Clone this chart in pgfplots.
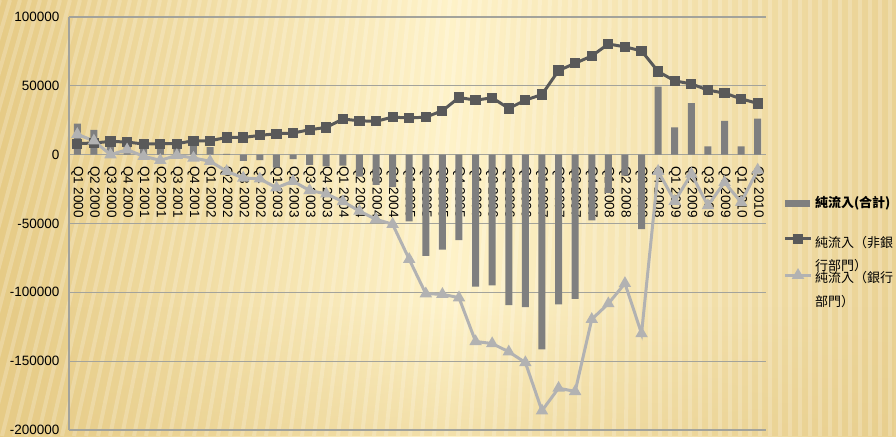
\documentclass[border=0pt]{standalone}
\usepackage{fontspec}
\setmainfont{Liberation Sans}
\newfontfamily\cjk{Noto Sans CJK TC}
\usepackage{pgfplots}
\usepackage{pgfplotstable}
\pgfplotsset{compat=1.18}
\usetikzlibrary{fadings}
\definecolor{bargray}{HTML}{7F7F7F}
\definecolor{darkline}{HTML}{595959}
\definecolor{lightline}{HTML}{B2B2B2}
\definecolor{gridgray}{HTML}{A3A39B}
\definecolor{bgL}{HTML}{E6CB86}
\definecolor{bgM}{HTML}{FEF2C8}
\definecolor{bgR}{HTML}{EAD294}

\pgfplotstableread{
idx total nonbank bank
0 22500 8000 14800
1 18000 8500 10000
2 10000 9600 0
3 12800 9200 3600
4 6500 7700 -1200
5 4000 8000 -4100
6 7500 8000 -500
7 8000 10100 -2400
8 5500 10100 -4800
9 500 12500 -12100
10 -4500 12500 -16900
11 -4000 14000 -17600
12 -9500 15200 -24000
13 -3300 15700 -19300
14 -7500 18100 -26000
15 -8500 19800 -28500
16 -8000 25900 -34000
17 -16000 24600 -41000
18 -22000 24200 -47000
19 -23500 27300 -50500
20 -48500 26600 -76000
21 -73500 27300 -101000
22 -69000 31900 -101400
23 -62000 41500 -103900
24 -95800 39600 -135700
25 -95000 41300 -137200
26 -109300 33600 -143200
27 -110800 39600 -151000
28 -141500 43700 -186000
29 -108700 61100 -169600
30 -104800 66400 -172000
31 -47700 71700 -119600
32 -27800 80400 -108200
33 -15200 78300 -93500
34 -54000 75400 -129900
35 49500 60400 -12000
36 19800 53600 -33800
37 37400 51400 -14000
38 6000 46900 -37000
39 24600 44700 -20100
40 6000 40600 -34600
41 26100 37200 -11100
}\datatable

\begin{document}
\begin{tikzpicture}
\useasboundingbox (0,0) rectangle (896pt,436pt);
\shade[left color=bgL, right color=bgR, middle color=bgM] (0,0) rectangle (896pt,436pt);
\fill[bgL, opacity=0.45, path fading=north] (0,0) rectangle (896pt,130pt);
\begin{scope}
\clip (0,0) rectangle (896pt,436pt);
\foreach \x in {-200,-190,...,1000}{
  \pgfmathsetmacro{\xb}{\x-130*max(0,1-\x/650)}
  \draw[white, opacity=0.2, line width=4pt] (\x pt,436pt) -- (\xb pt,0pt);
}
\end{scope}
\begin{axis}[
  at={(69pt,6pt)}, anchor=south west,
  scale only axis, width=697pt, height=413pt,
  xmin=-0.5, xmax=41.5, ymin=-200000, ymax=100000,
  axis y line=left, axis x line=middle,
  axis line style={-, draw=gridgray, line width=1.2pt},
  hide obscured x ticks=false, hide obscured y ticks=false,
  scaled y ticks=false, scaled x ticks=false,
  ytick={-200000,-150000,-100000,-50000,0,50000,100000},
  yticklabels={-200000,-150000,-100000,-50000,0,50000,100000},
  xtick={0,...,41},
  xticklabels={Q1 2000,Q2 2000,Q3 2000,Q4 2000,Q1 2001,Q2 2001,Q3 2001,Q4 2001,Q1 2002,Q2 2002,Q3 2002,Q4 2002,Q1 2003,Q2 2003,Q3 2003,Q4 2003,Q1 2004,Q2 2004,Q3 2004,Q4 2004,Q1 2005,Q2 2005,Q3 2005,Q4 2005,Q1 2006,Q2 2006,Q3 2006,Q4 2006,Q1 2007,Q2 2007,Q3 2007,Q4 2007,Q1 2008,Q2 2008,Q3 2008,Q4 2008,Q1 2009,Q2 2009,Q3 2009,Q4 2009,Q1 2010,Q2 2010},
  major tick length=0pt,
  ymajorgrids, grid style={gridgray, line width=1.2pt},
  tick label style={font=\fontsize{13.5}{14}\selectfont, text=black},
  xticklabel style={rotate=-90, anchor=west, xshift=8pt},
  yticklabel style={anchor=east, xshift=-6pt},
  legend cell align=left,
  legend style={at={(1.0273,0.5884)}, anchor=north west, draw=none, fill=none,
    inner sep=0pt, outer sep=0pt, font=\cjk\fontsize{13}{13}\selectfont,
    nodes={inner sep=0pt, outer sep=0pt}, /tikz/column sep=4pt, /tikz/row sep=0pt},
  clip=false,
]
\addplot[ybar, bar width=7pt, fill=bargray, draw=none,
  legend image code/.code={\path[draw=none, fill=none] (0pt,0pt) -- (26pt,0pt); \fill[overlay, bargray] (0pt,-9pt) rectangle (25pt,-2pt);}]
  table[x=idx, y=total]{\datatable};
\addlegendentry{\raisebox{0pt}[21pt][0pt]{\textbf{純流入(合計)}}}
\addplot[darkline, line width=3pt, mark=square*, mark size=3.6pt,
  legend image code/.code={\path[draw=none, fill=none] (0pt,0pt) -- (26pt,0pt); \draw[overlay, mark repeat=2, mark phase=2] plot coordinates {(0pt,-9.5pt) (13pt,-9.5pt) (26pt,-9.5pt)};}]
  table[x=idx, y=nonbank]{\datatable};
\addlegendentry{\raisebox{0pt}[38pt][0pt]{純流入（非銀}}
\addlegendimage{empty legend}
\addlegendentry{\raisebox{0pt}[22pt][0pt]{行部門）}}
\addplot[lightline, line width=3pt, mark=triangle*, mark size=4.2pt,
  legend image code/.code={\path[draw=none, fill=none] (0pt,0pt) -- (26pt,0pt); \draw[overlay, mark repeat=2, mark phase=2] plot coordinates {(0pt,3pt) (13pt,3pt) (26pt,3pt)};}]
  table[x=idx, y=bank]{\datatable};
\addlegendentry{\raisebox{0pt}[10pt][0pt]{純流入（銀行}}
\addlegendimage{empty legend}
\addlegendentry{\raisebox{0pt}[23pt][0pt]{部門）}}
\end{axis}
\end{tikzpicture}
\end{document}
